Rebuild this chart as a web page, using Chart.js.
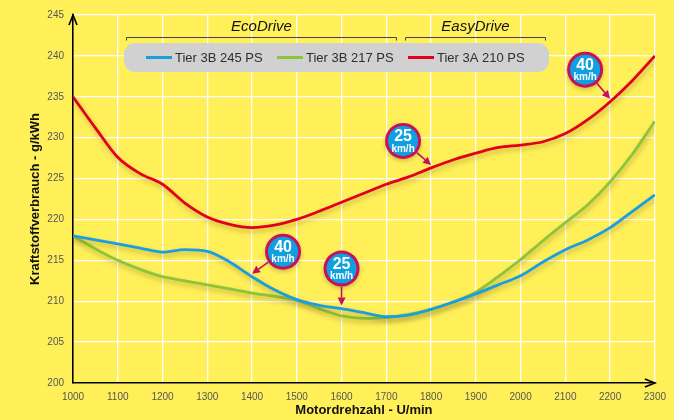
<!DOCTYPE html>
<html>
<head>
<meta charset="utf-8">
<title>Kraftstoffverbrauch</title>
<script src="https://cdn.jsdelivr.net/npm/chart.js"></script>
<style>
  html, body { margin: 0; padding: 0; background: #fff05a; }
  #wrap { width: 674px; height: 420px; }
</style>
</head>
<body>
<div id="wrap"><canvas id="chart" width="674" height="420"></canvas></div>
<script>
// engine speed (U/min)
const rpm = [1000, 1050, 1100, 1150, 1200, 1250, 1300, 1350, 1400, 1450, 1500, 1550, 1600, 1650,
  1700, 1750, 1800, 1850, 1900, 1950, 2000, 2050, 2100, 2150, 2200, 2250, 2300];

// g/kWh
const tier3b245 = [218, 217.5, 217, 216.5, 216, 216.3, 216.1, 214.8, 213, 211.4, 210.2, 209.5, 209.1, 208.6,
  208.1, 208.3, 209, 209.9, 210.9, 212, 213.1, 214.8, 216.3, 217.5, 219, 221, 223];
const tier3b217 = [218, 216.4, 215, 213.9, 213, 212.5, 212, 211.5, 211, 210.6, 210.1, 209.1, 208.2, 207.9,
  208, 208.4, 209, 209.9, 211.1, 213, 215.1, 217.4, 219.6, 221.8, 224.6, 228, 232];
const tier3a210 = [235, 231.2, 227.6, 225.6, 224.3, 222, 220.3, 219.4, 219, 219.3, 220, 221, 222.1, 223.2,
  224.3, 225.2, 226.3, 227.3, 228.1, 228.8, 229.1, 229.5, 230.5, 232.2, 234.4, 237, 240];

const seriesNames = ['Tier 3B 245 PS', 'Tier 3B 217 PS', 'Tier 3A 210 PS'];
const seriesColors = ['#1a9ee0', '#8cc43c', '#e2001a'];

// speed callouts: series index, rpm it points at, label
const callouts = [
  { series: 0, at: 1400, speed: '40', dx: 31, dy: -22 },
  { series: 0, at: 1600, speed: '25', dx: 0, dy: -37 },
  { series: 2, at: 1800, speed: '25', dx: -28, dy: -24 },
  { series: 2, at: 2200, speed: '40', dx: -25, dy: -29 }
];

// operating ranges over the chart
const ranges = [
  { name: 'EcoDrive', from: 1118, to: 1722 },
  { name: 'EasyDrive', from: 1742, to: 2055 }
];

const allSeries = [tier3b245, tier3b217, tier3a210];

const decor = {
  id: 'decor',
  beforeDraw(chart) {
    const ctx = chart.ctx;
    ctx.save();
    ctx.fillStyle = '#fff05a';
    ctx.fillRect(0, 0, chart.width, chart.height);
    ctx.restore();
  },
  beforeDatasetDraw(chart) {
    const ctx = chart.ctx;
    ctx.save();
    ctx.shadowColor = 'rgba(90, 70, 0, 0.35)';
    ctx.shadowBlur = 5;
    ctx.shadowOffsetX = 1;
    ctx.shadowOffsetY = 3;
  },
  afterDatasetDraw(chart) {
    chart.ctx.restore();
  },
  afterDatasetsDraw(chart) {
    const ctx = chart.ctx;
    const x = chart.scales.x, y = chart.scales.y;
    const area = chart.chartArea;
    ctx.save();

    // axis arrows
    ctx.strokeStyle = '#000';
    ctx.lineWidth = 1.6;
    ctx.beginPath();
    ctx.moveTo(area.left - 4, area.top + 10);
    ctx.lineTo(area.left, area.top);
    ctx.lineTo(area.left + 4, area.top + 10);
    ctx.moveTo(area.right - 10, area.bottom - 4);
    ctx.lineTo(area.right, area.bottom);
    ctx.lineTo(area.right - 10, area.bottom + 4);
    ctx.stroke();

    // range brackets
    ctx.strokeStyle = '#444';
    ctx.lineWidth = 1;
    ctx.fillStyle = '#111';
    ctx.font = 'italic 15px "Liberation Sans", Arial, sans-serif';
    ctx.textAlign = 'center';
    ctx.textBaseline = 'middle';
    const by = area.top + 22.5;
    ranges.forEach(r => {
      const x1 = Math.round(x.getPixelForValue(r.from)) + 0.5;
      const x2 = Math.round(x.getPixelForValue(r.to)) + 0.5;
      ctx.beginPath();
      ctx.moveTo(x1, by + 3);
      ctx.lineTo(x1, by);
      ctx.lineTo(x2, by);
      ctx.lineTo(x2, by + 3);
      ctx.stroke();
      ctx.fillText(r.name, (x1 + x2) / 2, by - 11);
    });

    // legend box
    const lx = area.left + 51, ly = area.top + 28, lw = 425, lh = 29;
    ctx.fillStyle = '#d1d1d1';
    ctx.beginPath();
    ctx.roundRect(lx, ly, lw, lh, 11);
    ctx.fill();
    ctx.font = '13px "Liberation Sans", Arial, sans-serif';
    ctx.textAlign = 'left';
    let ix = lx + 22;
    const iy = ly + lh / 2;
    seriesNames.forEach((name, i) => {
      ctx.strokeStyle = seriesColors[i];
      ctx.lineWidth = 3;
      ctx.beginPath();
      ctx.moveTo(ix, iy);
      ctx.lineTo(ix + 26, iy);
      ctx.stroke();
      ctx.fillStyle = '#2e2e2e';
      ctx.fillText(name, ix + 29, iy + 1);
      ix += 131;
    });

    // speed callouts
    callouts.forEach(c => {
      const idx = rpm.indexOf(c.at);
      const tx = x.getPixelForValue(c.at);
      const ty = y.getPixelForValue(allSeries[c.series][idx]) - 3;
      const cx = tx + c.dx, cy = ty + c.dy;
      const ang = Math.atan2(ty - cy, tx - cx);
      const r = 18;
      const sx = cx + Math.cos(ang) * r, sy = cy + Math.sin(ang) * r;
      const hx = tx - Math.cos(ang) * 8, hy = ty - Math.sin(ang) * 8;
      ctx.strokeStyle = '#c8115c';
      ctx.fillStyle = '#c8115c';
      ctx.lineWidth = 1.6;
      ctx.beginPath();
      ctx.moveTo(sx, sy);
      ctx.lineTo(hx, hy);
      ctx.stroke();
      ctx.beginPath();
      ctx.moveTo(tx, ty);
      ctx.lineTo(hx + Math.sin(ang) * 4, hy - Math.cos(ang) * 4);
      ctx.lineTo(hx - Math.sin(ang) * 4, hy + Math.cos(ang) * 4);
      ctx.closePath();
      ctx.fill();

      ctx.save();
      ctx.shadowColor = 'rgba(90, 70, 0, 0.3)';
      ctx.shadowBlur = 4;
      ctx.shadowOffsetY = 2;
      ctx.beginPath();
      ctx.arc(cx, cy, r, 0, Math.PI * 2);
      ctx.fillStyle = '#c8115c';
      ctx.fill();
      ctx.restore();
      ctx.beginPath();
      ctx.arc(cx, cy, r - 3, 0, Math.PI * 2);
      ctx.fillStyle = '#109fdf';
      ctx.fill();
      ctx.fillStyle = '#fff';
      ctx.textAlign = 'center';
      ctx.font = 'bold 16px "Liberation Sans", Arial, sans-serif';
      ctx.fillText(c.speed, cx, cy - 4);
      ctx.font = 'bold 10px "Liberation Sans", Arial, sans-serif';
      ctx.fillText('km/h', cx, cy + 8);
    });

    ctx.restore();
  }
};

new Chart(document.getElementById('chart'), {
  type: 'line',
  data: {
    labels: rpm,
    datasets: allSeries.map((s, i) => ({
      label: seriesNames[i],
      data: s.map((v, j) => ({ x: rpm[j], y: v })),
      borderColor: seriesColors[i],
      borderWidth: 2.8,
      pointRadius: 0,
      tension: 0.4,
      cubicInterpolationMode: 'monotone',
      fill: false
    }))
  },
  options: {
    responsive: false,
    animation: false,
    events: [],
    layout: { padding: { top: 10, right: 18, left: 0, bottom: 0 } },
    plugins: { legend: { display: false }, tooltip: { enabled: false } },
    scales: {
      x: {
        type: 'linear',
        min: 1000,
        max: 2300,
        afterFit: s => { s.height = 37; },
        ticks: {
          stepSize: 100,
          padding: 8,
          color: '#555',
          callback: v => String(v),
          font: { family: '"Liberation Sans", Arial, sans-serif', size: 10 }
        },
        grid: { color: '#ffffff', lineWidth: 1.3, drawTicks: false },
        border: { color: '#000', width: 1.6 },
        title: {
          display: true,
          text: 'Motordrehzahl - U/min',
          color: '#111',
          font: { family: '"Liberation Sans", Arial, sans-serif', size: 13, weight: 'bold' },
          padding: { top: 0, bottom: 2 }
        }
      },
      y: {
        min: 200,
        max: 245,
        afterFit: s => { s.width = 73; },
        ticks: {
          stepSize: 5,
          padding: 9,
          color: '#555',
          font: { family: '"Liberation Sans", Arial, sans-serif', size: 10 }
        },
        grid: { color: '#ffffff', lineWidth: 1.3, drawTicks: false },
        border: { color: '#000', width: 1.6 },
        title: {
          display: true,
          text: 'Kraftstoffverbrauch - g/kWh',
          color: '#111',
          font: { family: '"Liberation Sans", Arial, sans-serif', size: 13, weight: 'bold' },
          padding: { top: 28, bottom: 0 }
        }
      }
    }
  },
  plugins: [decor]
});
</script>
</body>
</html>
